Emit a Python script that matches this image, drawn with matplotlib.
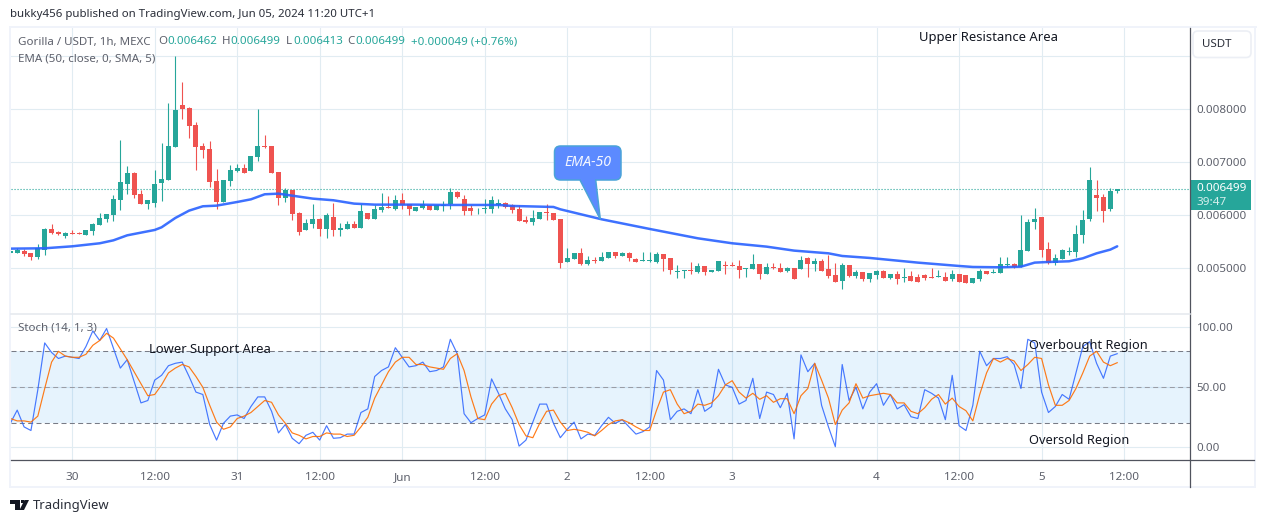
import matplotlib
matplotlib.use("Agg")
import matplotlib.pyplot as plt
from matplotlib.patches import Rectangle, FancyBboxPatch, PathPatch, Polygon
from matplotlib.path import Path

# ---------- data, prices in 1e-6 USDT ----------
opens = [5295,5289,5326,5282,5213,5352,5741,5684,5609,5665,5665,5628,5703,5816,5929,6004,6287,6588,6795,6400,
         6212,6230,6607,6664,7285,8076,8020,7699,7304,7247,6645,6249,6645,6833,6890,6833,7097,7304,7304,6814,
         6325,6475,6042,5722,5835,5929,5741,5967,5722,5741,5835,5760,6042,5929,6099,6155,6117,6287,6212,6080,
         6143,6186,6105,6174,6205,6438,6306,6130,6111,6124,6124,6199,6230,6186,6117,5904,5879,5935,6061,6042,
         5929,5119,5176,5289,5082,5157,5138,5195,5308,5239,5289,5176,5138,5138,5119,5270,5195,4937,4956,4969,
         4931,5044,4931,4950,5063,5063,5044,4994,4987,5082,4893,5025,5006,4950,5006,4987,5195,5082,5138,4987,
         4874,4761,5063,4856,4931,4799,4874,4950,4818,4893,4812,4856,4837,4874,4837,4843,4837,4799,4893,4874,
         4724,4799,4950,4918,4912,5063,5082,5025,5326,5873,5967,5364,5100,5176,5314,5308,5628,5929,6381,6343,
         6117,6462]
highs = [5345,5377,5358,5282,5452,5753,5835,5703,5678,5722,5678,5716,5860,6036,6023,6381,7417,6927,6814,6475,
         6287,6852,7354,8114,8999,8509,8038,7756,7354,7398,6871,6664,6946,6965,6965,7116,8001,7511,7304,6814,
         6513,6475,6061,5929,6212,5942,6042,6230,5854,5891,5891,6212,6042,6193,6419,6362,6381,6419,6212,6155,
         6287,6186,6199,6268,6507,6450,6381,6186,6130,6299,6362,6306,6249,6212,6186,5986,6099,6061,6205,6042,
         5929,5383,5289,5383,5232,5207,5308,5308,5308,5308,5308,5195,5308,5308,5308,5270,5195,5063,4969,5119,
         5100,5044,4969,5138,5138,5119,5157,5006,5270,5082,5100,5100,5100,5025,5006,5232,5213,5195,5176,5251,
         5100,5100,5063,4969,4931,4912,4969,4969,4893,4950,5006,4950,4893,4893,5006,4969,4931,4969,4893,4874,
         4818,4987,4950,4987,5213,5213,5100,6004,5929,6136,5967,5496,5270,5364,5402,5816,6099,6908,6664,6400,
         6513,6499]
lows = [5282,5282,5232,5157,5169,5251,5647,5621,5578,5647,5647,5628,5628,5810,5873,5898,6099,6400,6325,6212,
        6117,6155,6268,6664,7285,7812,7455,6852,7078,6532,6117,6249,6551,6814,6795,6833,7021,7266,6795,6193,
        6249,5910,5628,5722,5760,5609,5571,5609,5609,5741,5760,5760,5929,5929,6061,6136,6099,6117,6004,6080,
        6111,6105,6099,6080,6124,6325,6004,6004,6030,6042,6048,6136,6143,6042,5898,5860,5816,5935,5910,5916,
        5013,5119,5176,5063,5069,5107,5138,5195,5195,5232,5138,5119,5138,5119,5100,4950,4893,4818,4818,4893,
        4912,4874,4931,4950,4893,5044,4818,4837,4987,4799,4893,4987,4931,4931,4799,4987,4837,4950,4950,4818,
        4743,4611,4837,4818,4761,4743,4799,4818,4799,4705,4743,4761,4743,4780,4818,4837,4761,4761,4743,4724,
        4724,4761,4893,4912,4912,5025,5006,5025,5326,5741,5213,5082,5063,5176,5251,5213,5477,5891,6080,5873,
        6080,6413]
closes = [5333,5352,5264,5220,5377,5741,5665,5653,5659,5653,5653,5716,5835,5948,6023,6306,6626,6795,6381,6212,
          6287,6588,6682,7304,7982,8001,7680,7285,7229,6626,6249,6664,6852,6890,6795,7116,7304,7285,6795,6325,
          6475,6023,5684,5854,5929,5741,6004,5722,5760,5835,5760,6080,5929,6117,6155,6143,6287,6193,6117,6155,
          6212,6105,6186,6186,6438,6343,6080,6080,6124,6136,6287,6224,6155,6105,5898,5879,5948,6061,6036,5916,
          5100,5188,5289,5082,5157,5144,5213,5308,5232,5289,5195,5119,5151,5151,5270,5176,4969,4950,4969,4950,
          5044,4931,4969,5138,5050,5044,4969,5006,5082,4893,5025,5006,4931,5006,4799,5157,5082,5138,4950,4856,
          4743,5063,4856,4931,4799,4912,4950,4818,4893,4799,4837,4761,4743,4818,4824,4856,4761,4893,4743,4724,
          4818,4950,4893,4931,5082,5075,5025,5345,5873,5929,5345,5100,5195,5345,5326,5647,5910,6664,6325,6080,
          6456,6499]

ema_bars = [0,5,9,13,15,17,21,22,24,26,28,30,33,35,37,39,41,44,47,50,53,59,63,71,73,79,80,86,93,100,105,110,114,
            119,121,125,132,138,140,144,147,149,151,154,156,158,160,161]
ema_vals = [5370,5377,5414,5471,5527,5621,5722,5772,5948,6086,6168,6180,6249,6299,6394,6406,6368,6312,6281,6218,
            6199,6199,6193,6193,6174,6155,6111,5923,5741,5565,5471,5408,5333,5282,5232,5195,5107,5044,5025,5019,
            5031,5107,5119,5132,5188,5282,5352,5414]

stoch_k = [20,31,17,14,48,87,79,74,76,75,74,84,97,89,99,82.5,66,73,55,37,39,56,60,68,70,71,59,46,44,19,6,20,26,27,24,
           34,42,42,30,12,19,7.5,3,10,12.5,6,18,7.5,8,11,11,29,32,59,64,67,83,75,67,68,71,63,64,67,90,78,28,20.5,24,27,
           57,45,32,23,1,6,21,36,36,20,8,15,21,7,11,10,18,25,20,23,17,11,13,17,64,56,23,30,32,28,48,30,34,65,52,50,36,
           39,57.5,24,46,44,33,45,7,77,63,70,35,17,0.5,69,39,50,32,46,53,35,44,32,35.5,25.5,24,48,45,41,23,60,18,14,35,
           80,68,74,74,75.5,69,49,90,87,46,29,34,44,40,62,84,88,70,57.5,76,78]
stoch_d = [24,22,22,21,26,49,71,80,76,75,75,77.5,85,89,95,91,82,73,63,53,43,44,52,62,66,69,67,59,50,35,21,15,17,24,26,
           29,34,39,37.5,27,20,12,10,7,9,9,12,11,11,9,10,17,25,41,52,63,71,75,75,69,69,67,66,65,74,78,64,42,24,23,36,
           43,45,33,19,9.5,8,20,30,31,21,14,15,14,12.5,9.5,14,19,22,23,20.5,17,14,14,31,46,48,36,28,30,36,35,37,43,52,
           55.5,46,41,45,40,43,37.5,40.5,40.5,28,43,49,70,56,41,19,31,37,53,41,43,44,45,44,37,37,30,28,33,40,44,36,41,
           34,30.5,22,44,62,74,71,74,72,64,69,75,74,52,35,35,39,49,62,76,80,71,68,70.5]

x_tick_bars = [9,21,33,45,57,69,81,93,105,126,138,150,162]
x_tick_labels = ["30","12:00","31","12:00","Jun","12:00","2","12:00","3","4","12:00","5","12:00"]
price_ticks = [5000,6000,7000,8000]
price_labels = ["0.005000","0.006000","0.007000","0.008000"]
stoch_ticks = [0,50,100]
stoch_labels = ["0.00","50.00","100.00"]
last_price = 6499

# ---------- layout ----------
W, H = 1265, 522
FONT = "Noto Sans"
plt.rcParams["font.family"] = FONT
GREEN, RED, GRID, GREY = "#26a69a", "#ef5350", "#e1ecf2", "#5d606b"
fig = plt.figure(figsize=(W/100, H/100), dpi=100, facecolor="white")

def box(x0, y0, x1, y1, **kw):
    return fig.add_axes([x0/W, 1-y1/H, (x1-x0)/W, (y1-y0)/H], **kw)

X0, X1 = 10.5, 1189.7
xlim = ((X0-10.33)/6.875, (X1-10.33)/6.875)
P = lambda y: 5000+(268.3-y)/53.1*1000
S = lambda y: (447.3-y)/1.2

ax = box(X0, 28, X1, 313.5)
ax2 = box(X0, 313.5, X1, 459.7)
for a in (ax, ax2):
    a.set_xlim(*xlim)
    a.set_axisbelow(True)
    a.grid(True, color=GRID, lw=0.8)
    for s in a.spines.values():
        s.set_visible(False)
    a.set_xticks(x_tick_bars)
    a.yaxis.tick_right()
    a.tick_params(axis="y", length=0, pad=5, labelsize=8.3, labelcolor=GREY)
    a.tick_params(axis="x", length=0)

# candles
ax.set_ylim(P(313.5), P(28))
ax.set_yticks(price_ticks + [9000])
ax.set_yticklabels(price_labels + [""])
ax.tick_params(axis="x", labelbottom=False)
n = range(len(opens))
cols = [GREEN if c >= o else RED for o, c in zip(opens, closes)]
ax.vlines(list(n), lows, highs, colors=cols, lw=0.8, zorder=3)
ax.bar(list(n), [abs(c-o) for o, c in zip(opens, closes)], bottom=[min(o, c) for o, c in zip(opens, closes)],
       width=0.72, color=cols, lw=0, zorder=4)
ax.axhline(last_price, color=GREEN, lw=0.8, ls=(0, (1, 1.7)), zorder=2)
ax.plot(ema_bars, ema_vals, color="#2962ff", lw=1.8, alpha=.9, zorder=5, solid_capstyle="round")

# stochastic
ax2.set_ylim(S(459.7), S(313.5))
ax2.set_yticks(stoch_ticks)
ax2.set_yticklabels(stoch_labels)
ax2.set_xticklabels(x_tick_labels, fontsize=8.4, color=GREY)
ax2.tick_params(axis="x", pad=9)
ax2.axhspan(20, 80, color="#2196f3", alpha=.11, lw=0, zorder=1)
for v, c in ((80, "#787b86"), (50, "#9a9da6"), (20, "#787b86")):
    ax2.axhline(v, color=c, lw=0.75, ls=(0, (4.8, 3.2)), zorder=2)
ax2.plot(range(len(stoch_k)), stoch_k, color="#2962ff", lw=0.85, alpha=.85, zorder=3)
ax2.plot(range(len(stoch_d)), stoch_d, color="#ff6d00", lw=0.85, alpha=.9, zorder=4)

# overlay in pixel coordinates for furniture
ov = fig.add_axes([0, 0, 1, 1], zorder=10)
ov.set_xlim(0, W); ov.set_ylim(H, 0); ov.axis("off"); ov.patch.set_alpha(0)
FR = "#f0f3fa"
for r in ((9, 26, 1.8, 461.5), (9, 26, 1248, 2), (1254, 26, 2.2, 461.5), (9, 486, 1247, 2)):
    ov.add_patch(Rectangle((r[0], r[1]), r[2], r[3], color=FR, lw=0))
ov.plot([X1, X1], [28, 486.5], color="#50535e", lw=0.9)
ov.plot([X0, 1254], [459.7, 459.7], color="#50535e", lw=0.9)
ov.plot([X0, X1], [313.5, 313.5], color="#e4e8ee", lw=1.1)

def T(x, y, s, color="#131722", size=8.7, **kw):
    kw.setdefault("va", "center")
    return ov.text(x, y, s, color=color, fontsize=size, **kw)

T(10, 15, "bukky456 published on TradingView.com, Jun 05, 2024 11:20 UTC+1", color="#2a2e39", size=8.25)
T(18, 42, "Gorilla / USDT, 1h, MEXC", color=GREY, size=8.3)
T(18, 59, "EMA (50, close, 0, SMA, 5)", color=GREY, size=8.3)
T(18, 328.5, "Stoch (14, 1, 3)", color=GREY, size=8.3)
for x, s in ((158, "O"), (222, "H"), (286, "L"), (347.5, "C")):
    T(x, 42, s, color=GREY, size=8.3)
for x, s in ((167, "0.006462"), (230, "0.006499"), (293, "0.006413"), (355, "0.006499"), (411, "+0.000049 (+0.76%)")):
    T(x, 42, s, color=GREEN, size=8.3)
T(919, 37, "Upper Resistance Area", size=9.4)
T(149, 349.5, "Lower Support Area", size=9.35)
T(1029, 345.5, "Overbought Region", size=9.2)
T(1029, 440.5, "Oversold Region", size=9.25)

# USDT button
ov.add_patch(FancyBboxPatch((1195.5, 33.5), 53, 21.5, boxstyle="round,pad=2.5,rounding_size=5",
                            fc="white", ec="#eceff5", lw=1.2))
T(1202, 44.5, "USDT", color="#2a2e39", size=8.3)

# last-price tag
ov.add_patch(Rectangle((X1, 180), 61.5, 30.3, color=GREEN, lw=0))
T(1196.5, 188.5, "0.006499", color="white", size=8.4, fontweight="bold")
T(1196.5, 202.5, "39:47", color="#d4eeeb", size=8.4)

# EMA-50 callout
L, R, Tp, B, r = 554.5, 621, 146, 180, 6
verts = [(L+r, Tp), (R-r, Tp), (R, Tp), (R, Tp+r), (R, B-r), (R, B), (R-r, B), (595.7, B), (600.3, 219.3), (580, B),
         (L+r, B), (L, B), (L, B-r), (L, Tp+r), (L, Tp), (L+r, Tp), (L+r, Tp)]
codes = [Path.MOVETO, Path.LINETO, Path.CURVE3, Path.CURVE3, Path.LINETO, Path.CURVE3, Path.CURVE3, Path.LINETO,
         Path.LINETO, Path.LINETO, Path.LINETO, Path.CURVE3, Path.CURVE3, Path.LINETO, Path.CURVE3, Path.CURVE3,
         Path.CLOSEPOLY]
ov.add_patch(PathPatch(Path(verts, codes), fc="#5c8aff", ec="#4aa3d8", lw=1.1))
T(587.5, 163, "EMA-50", color="#f4f7ff", size=10.2, ha="center", style="italic", fontweight="bold")

# TradingView logo
ov.add_patch(Polygon([(10, 500), (19.5, 500), (19.5, 510), (15, 510), (15, 504), (10, 504)], fc="#131722", lw=0))
ov.add_patch(Polygon([(24.5, 500), (29, 500), (24, 510), (19.5, 510)], fc="#131722", lw=0))
ov.add_patch(Rectangle((20.5, 500), 3, 3.2, fc="#131722", lw=0))
T(33, 505, "TradingView", color="#2a2e39", size=9.4)

fig.savefig("out.png", dpi=100, facecolor="white")
